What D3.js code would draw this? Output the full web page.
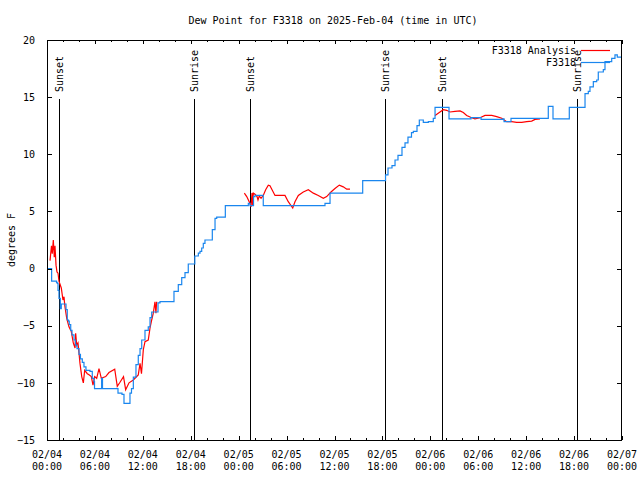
<!DOCTYPE html>
<html>
<head>
<meta charset="utf-8">
<script src="https://cdn.jsdelivr.net/npm/d3@7"></script>
<style>
  html, body { margin: 0; padding: 0; background: #fff; }
  svg { display: block; }
  text { font-family: "DejaVu Sans Mono", "Liberation Mono", monospace; font-size: 10px; fill: #000; }
</style>
</head>
<body>
<svg id="chart" width="640" height="480"></svg>
<script>
// ---- Data (hours since 2025-02-04 00:00 UTC) ----
const chartTitle = "Dew Point for F3318 on 2025-Feb-04 (time in UTC)";
const yAxisLabel = "degrees F";
const seriesNames = ["F3318 Analysis", "F3318"];

const obsHours = [0, 0.54, 0.58, 1.19, 1.28, 1.38, 1.50, 1.67, 1.79, 2.25, 2.38, 2.54, 2.69, 2.79, 2.97, 3.13,
  3.38, 3.57, 3.76, 4.01, 4.19, 4.42, 4.63, 4.88, 5.38, 5.67, 5.89, 5.95, 6.76, 6.84, 6.95, 8.73, 8.89,
  9.39, 9.64, 10.05, 10.39, 10.58, 10.81, 11.14, 11.43, 11.65, 11.86, 12.27, 12.68, 12.90, 13.11, 13.74,
  13.90, 14.15, 15.74, 15.90, 16.44, 16.87, 17.28, 17.69, 18.44, 18.51, 18.95, 19.16, 19.37, 19.57, 19.78,
  20.41, 20.70, 21.04, 21.25, 22.29, 22.33, 25.01, 25.21, 25.42, 25.67, 25.86, 26.05, 26.88, 27.08, 34.60,
  34.81, 35.44, 39.41, 39.53, 42.26, 42.39, 42.70, 43.20, 43.58, 43.95, 44.45, 44.83, 45.20, 45.64, 45.87,
  46.33, 46.62, 47.12, 47.75, 48.37, 48.59, 50.17, 50.34, 52.97, 53.09, 54.22, 54.35, 57.10, 57.23, 57.98,
  58.10, 62.57, 62.77, 63.24, 63.36, 65.28, 65.40, 66.95, 67.37, 67.78, 67.99, 68.41, 68.83, 69.03, 69.66,
  69.87, 70.41, 70.71, 71.12, 71.41, 72.00];
const obsValues = [0, 0, -1.1, -1.2, -1.3, -1.9, -2.6, -3.5, -3.1, -3.1, -3.6, -4.5, -4.6, -4.9, -5.4, -5.8,
  -6.25, -6.7, -7.0, -7.5, -7.9, -8.2, -8.6, -8.9, -9.0, -9.6, -9.9, -10.5, -10.5, -9.6, -10.5, -10.5, -10.9,
  -11.0, -11.8, -11.8, -10.9, -10.5, -9.5, -8.4, -7.6, -7.0, -6.25, -5.4, -5.1, -4.3, -3.8, -3.8,
  -3.0, -2.9, -2.9, -2.0, -1.4, -0.8, -0.35, 0.4, 0.4, 1.1, 1.35, 1.5, 1.8, 2.2, 2.5,
  2.5, 3.4, 4.4, 4.5, 4.5, 5.5, 5.5, 5.7, 5.5, 5.5, 6.3, 6.4, 6.4, 5.5, 5.5,
  5.7, 6.6, 6.6, 7.7, 7.7, 8.2, 8.8, 9.0, 9.5, 9.9, 10.6, 11.0, 11.5, 11.9, 12.0,
  12.5, 13.0, 12.8, 12.85, 13.15, 14.1, 14.1, 13.1, 13.1, 13.2, 13.2, 13.05, 13.1, 12.85, 12.85,
  13.15, 13.15, 14.2, 14.2, 13.1, 13.1, 14.1, 14.1, 15.3, 15.5, 15.9, 16.35, 16.5, 17.2, 17.4,
  18.1, 18.1, 18.4, 18.7, 18.5, 18.5];

// null entries separate the gaps in the analysis series
const anaHours = [0.38, 0.56, 0.66, 0.79, 0.91, 1.00, 1.13, 1.25, 1.38, 1.50, 1.79, 2.00, 2.13, 2.22, 2.47,
  2.75, 3.04, 3.29, 3.51, 3.59, 3.72, 3.88, 4.01, 4.13, 4.35, 4.55, 4.72, 5.05, 5.26, 5.55, 5.76, 5.97, 6.22,
  6.51, 6.80, 7.35, 7.76, 8.48, 8.80, 9.14, 9.58, 9.85, 10.27, 10.81, 11.43, 11.65, 11.83, 12.06, 12.27,
  12.68, 12.90, 13.11, 13.31, 13.52, 13.64, 13.73,
  null,
  24.71, 25.01, 25.42, 25.55, 25.67, 25.76, 25.83, 26.05, 26.30, 26.42, 26.58, 26.80, 27.08, 27.38, 27.71,
  27.92, 28.55, 29.80, 30.21, 30.77, 31.05, 31.47, 32.09, 32.72, 33.35, 33.97, 34.60, 35.02, 35.56, 36.06,
  36.60, 37.10, 37.53, 37.94,
  null,
  48.59, 49.21, 49.62, 50.05, 50.46, 51.09, 51.72, 52.13, 52.55, 53.18, 53.59, 54.22, 54.85, 55.69, 56.31,
  56.94, 57.56, 58.19, 58.81, 59.44, 60.07, 60.69, 61.11, 61.73];
const anaValues = [0.7, 2.0, 1.3, 2.5, 1.0, 2.0, 0.3, -0.3, -0.4, -1.1, -1.7, -2.75, -2.46, -3.2, -4.35,
  -5.1, -5.5, -6.5, -6.95, -5.66, -6.7, -6.5, -7.4, -8.3, -9.45, -10.0, -8.9, -9.2, -9.3, -9.45, -10.2, -9.45, -9.6,
  -8.75, -9.6, -9.45, -9.1, -8.8, -10.3, -9.95, -9.45, -10.6, -10.0, -9.75, -9.3, -8.3, -9.2, -7.1, -6.4,
  -6.25, -5.2, -4.5, -3.9, -2.9, -3.9, -2.9,
  null,
  6.6, 6.3, 5.7, 5.4, 6.6, 5.5, 6.6, 6.5, 6.3, 6.0, 6.35, 6.15, 6.4, 6.9, 7.3,
  7.25, 6.4, 6.4, 5.85, 5.3, 5.85, 6.4, 6.7, 6.9, 6.6, 6.4, 6.15, 6.3, 6.7, 7.0,
  7.3, 7.15, 6.95, 6.95,
  null,
  13.4, 13.7, 13.9, 13.85, 13.7, 13.75, 13.8, 13.65, 13.4, 13.2, 13.1, 13.2, 13.4, 13.4, 13.3,
  13.15, 12.85, 12.85, 12.8, 12.8, 12.85, 12.9, 13.05, 13.1];

const sunEventHours = [1.45, 18.45, 25.46, 42.32, 49.50, 66.33];
const sunEventLabels = ["Sunset", "Sunrise", "Sunset", "Sunrise", "Sunset", "Sunrise"];

const xTickHours = [0, 6, 12, 18, 24, 30, 36, 42, 48, 54, 60, 66, 72];
const xTickDateLabels = ["02/04", "02/04", "02/04", "02/04", "02/05", "02/05", "02/05", "02/05", "02/06", "02/06", "02/06", "02/06", "02/07"];
const xTickTimeLabels = ["00:00", "06:00", "12:00", "18:00", "00:00", "06:00", "12:00", "18:00", "00:00", "06:00", "12:00", "18:00", "00:00"];
const xMinorTickHours = [2, 4, 8, 10, 14, 16, 20, 22, 26, 28, 32, 34, 38, 40, 44, 46, 50, 52, 56, 58, 62, 64, 68, 70];
const yTicks = [-15, -10, -5, 0, 5, 10, 15, 20];

// ---- Rendering ----
const base = Date.UTC(2025, 1, 4, 0, 0);
const toDate = h => new Date(base + h * 3600 * 1000);

const W = 640, H = 480;
const m = { left: 47, right: 18, top: 40, bottom: 40 };
const svg = d3.select("#chart");

const x = d3.scaleUtc()
  .domain([toDate(0), toDate(72)])
  .range([m.left, W - m.right]);
const y = d3.scaleLinear()
  .domain([-15, 20])
  .range([H - m.bottom, m.top]);

const colors = { analysis: "#ff0000", obs: "#1a86ee" };

// Title
svg.append("text")
  .attr("x", 333).attr("y", 23.5)
  .attr("text-anchor", "middle")
  .text(chartTitle);

// Y label
svg.append("text")
  .attr("transform", `translate(14.5,${(m.top + H - m.bottom) / 2}) rotate(-90)`)
  .attr("text-anchor", "middle")
  .text(yAxisLabel);

// Sun event vertical lines + labels
const sunG = svg.append("g");
sunEventHours.forEach((h, i) => {
  const xp = Math.round(x(toDate(h))) + 0.5;
  sunG.append("line")
    .attr("x1", xp).attr("x2", xp)
    .attr("y1", 99).attr("y2", y(-15))
    .attr("stroke", "#000").attr("stroke-width", 1)
    .attr("shape-rendering", "crispEdges");
  sunG.append("text")
    .attr("transform", `translate(${xp + 3.5},92) rotate(-90)`)
    .attr("text-anchor", "start")
    .text(sunEventLabels[i]);
});

// Series
svg.append("clipPath").attr("id", "plotclip")
  .append("rect").attr("x", m.left).attr("y", m.top)
  .attr("width", W - m.left - m.right).attr("height", H - m.top - m.bottom);

const anaData = anaHours.map((h, i) => ({ h, v: anaValues[i] }));
const obsData = obsHours.map((h, i) => ({ h, v: obsValues[i] }));

const line = d3.line()
  .defined(d => d.h !== null && d.v !== null)
  .x(d => x(toDate(d.h)))
  .y(d => y(d.v));
const stepLine = d3.line()
  .curve(d3.curveStepAfter)
  .x(d => x(toDate(d.h)))
  .y(d => y(d.v));

svg.append("path")
  .datum(anaData)
  .attr("clip-path", "url(#plotclip)")
  .attr("fill", "none")
  .attr("stroke", colors.analysis)
  .attr("stroke-width", 1.2)
  .attr("d", line);

svg.append("path")
  .datum(obsData)
  .attr("clip-path", "url(#plotclip)")
  .attr("fill", "none")
  .attr("stroke", colors.obs)
  .attr("stroke-width", 1.2)
  .attr("d", stepLine);

// Axes
const xb = svg.append("g").attr("transform", `translate(0,${H - m.bottom})`)
  .call(d3.axisBottom(x).tickValues(xTickHours.map(toDate)).tickSize(-4).tickFormat(() => ""));
const xbMinor = svg.append("g").attr("transform", `translate(0,${H - m.bottom})`)
  .call(d3.axisBottom(x).tickValues(xMinorTickHours.map(toDate)).tickSize(-2).tickFormat(() => ""));
const xt = svg.append("g").attr("transform", `translate(0,${m.top})`)
  .call(d3.axisTop(x).tickValues(xTickHours.map(toDate)).tickSize(-4).tickFormat(() => ""));
const xtMinor = svg.append("g").attr("transform", `translate(0,${m.top})`)
  .call(d3.axisTop(x).tickValues(xMinorTickHours.map(toDate)).tickSize(-2).tickFormat(() => ""));
const yl = svg.append("g").attr("transform", `translate(${m.left},0)`)
  .call(d3.axisLeft(y).tickValues(yTicks).tickSize(-5).tickPadding(12).tickFormat(d3.format("d")));
const yr = svg.append("g").attr("transform", `translate(${W - m.right},0)`)
  .call(d3.axisRight(y).tickValues(yTicks).tickSize(-5).tickFormat(() => ""));

[xb, xbMinor, xt, xtMinor, yl, yr].forEach(g => {
  g.select(".domain").remove();
  g.selectAll(".tick line").attr("stroke", "#000").attr("shape-rendering", "crispEdges");
  g.selectAll("text").attr("font-family", null).attr("font-size", null);
});
yl.selectAll(".tick text").attr("fill", "#000");

// Two-line x tick labels
const xlab = svg.append("g");
xTickHours.forEach((h, i) => {
  const xp = x(toDate(h));
  xlab.append("text").attr("x", xp).attr("y", 457.5).attr("text-anchor", "middle").text(xTickDateLabels[i]);
  xlab.append("text").attr("x", xp).attr("y", 469.5).attr("text-anchor", "middle").text(xTickTimeLabels[i]);
});

// Plot border
svg.append("rect")
  .attr("x", m.left + 0.5).attr("y", m.top + 0.5)
  .attr("width", W - m.left - m.right - 1).attr("height", H - m.top - m.bottom)
  .attr("fill", "none").attr("stroke", "#000").attr("stroke-width", 1)
  .attr("shape-rendering", "crispEdges");

// Legend
const leg = svg.append("g");
[[seriesNames[0], colors.analysis, 50], [seriesNames[1], colors.obs, 62]].forEach(([name, col, yy]) => {
  leg.append("text").attr("x", 576).attr("y", yy + 3.5).attr("text-anchor", "end").text(name);
  leg.append("line").attr("x1", 581).attr("x2", 610).attr("y1", yy + 0.5).attr("y2", yy + 0.5)
    .attr("stroke", col).attr("stroke-width", 1.2);
});
</script>
</body>
</html>
